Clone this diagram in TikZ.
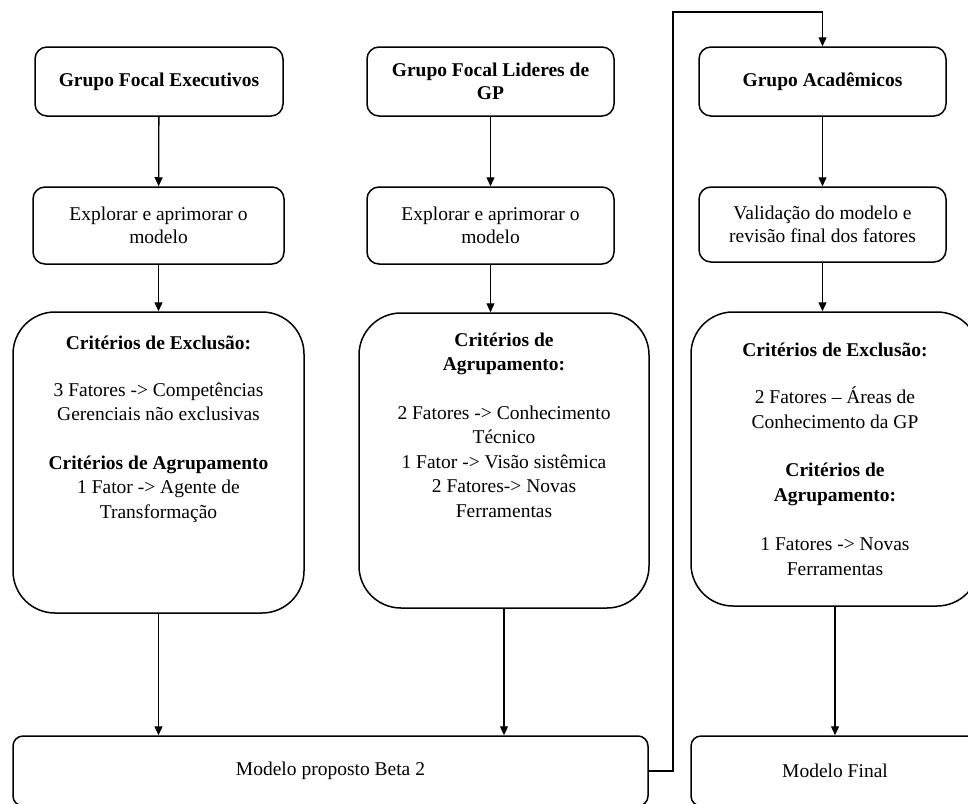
\documentclass[tikz,border=0pt]{standalone}
\usepackage{fontspec}
\setmainfont{Liberation Serif}
\usetikzlibrary{arrows.meta}

\tikzset{
  x=1pt, y=-1pt,
  box/.style={draw, line width=1.5pt, rounded corners=12pt, align=center,
    inner sep=0pt, font=\fontsize{19.5}{23}\selectfont},
  bigbox/.style={draw, line width=1.5pt, rounded corners=42pt, inner sep=0pt},
  % anchored at the baseline of the last line
  bodytext/.style={align=center, inner sep=0pt, anchor=base,
    font=\fontsize{19.5}{24.5}\selectfont},
  arr/.style={line width=1.3pt, -{Triangle[length=9pt,width=8pt]}}
}

\begin{document}
\begin{tikzpicture}
\useasboundingbox (0,0) rectangle (968,803);

% column 1: executives
\node[box, minimum width=248pt, minimum height=69pt] (g1) at (159,81.5)
  {\textbf{Grupo Focal Executivos}};
\node[box, minimum width=251pt, minimum height=77pt] (e1) at (158.5,225.5)
  {Explorar e aprimorar o\\modelo};
\node[bigbox, minimum width=291pt, minimum height=301pt] (c1) at (158.5,462.5) {};
\node[bodytext] (c1t) at (158.5,518)
  {\textbf{Critérios de Exclusão:}\\[22pt]
   3 Fatores -> Competências\\
   Gerenciais não exclusivas\\[24pt]
   \textbf{Critérios de Agrupamento}\\
   1 Fator -> Agente de\\
   Transformação};

% column 2: project management leaders
\node[box, minimum width=247pt, minimum height=69pt] (g2) at (490.5,81.5)
  {\textbf{Grupo Focal Lideres de}\\\textbf{GP}};
\node[box, minimum width=247pt, minimum height=77pt] (e2) at (490.5,225.5)
  {Explorar e aprimorar o\\modelo};
\node[bigbox, minimum width=290pt, minimum height=295pt] (c2) at (504,460.5) {};
\node[bodytext] (c2t) at (504,517)
  {\textbf{Critérios de}\\
   \textbf{Agrupamento:}\\[24pt]
   2 Fatores -> Conhecimento\\
   Técnico\\
   1 Fator -> Visão sistêmica\\
   2 Fatores-> Novas\\
   Ferramentas};

% column 3: academics
\node[box, minimum width=247pt, minimum height=69pt] (g3) at (822.5,81.5)
  {\textbf{Grupo Acadêmicos}};
\node[box, minimum width=247pt, minimum height=75pt] (e3) at (822.5,224.5)
  {Validação do modelo e\\revisão final dos fatores};
\node[bigbox, minimum width=288pt, minimum height=294pt] (c3) at (835,459) {};
\node[bodytext] (c3t) at (835,575)
  {\textbf{Critérios de Exclusão:}\\[23pt]
   2 Fatores – Áreas de\\
   Conhecimento da GP\\[24pt]
   \textbf{Critérios de}\\
   \textbf{Agrupamento:}\\[25pt]
   1 Fatores -> Novas\\
   Ferramentas};

% bottom row: models
\node[box, rounded corners=10pt, minimum width=635pt, minimum height=70pt] (b1) at (330.5,771)
  {Modelo proposto Beta 2};
\node[box, rounded corners=10pt, minimum width=288pt, minimum height=70pt] (b2) at (835,771)
  {Modelo Final};

% flow
\draw[arr] (g1) -- (e1);
\draw[arr] (e1) -- (c1.north -| e1.south);
\draw[arr] (g2) -- (e2);
\draw[arr] (e2) -- (c2.north -| e2.south);
\draw[arr] (g3) -- (e3);
\draw[arr] (e3) -- (c3.north -| e3.south);
\draw[arr] (c1.south) -- (c1.south |- b1.north);
\draw[arr] (c2.south) -- (c2.south |- b1.north);
\draw[arr] (c3.south) -- (b2.north);

% feedback loop from Beta 2 to the academic group
\coordinate (loop) at (673,12);
\draw[arr] (b1.east) -| (loop) -| (g3.north);
\end{tikzpicture}
\end{document}
